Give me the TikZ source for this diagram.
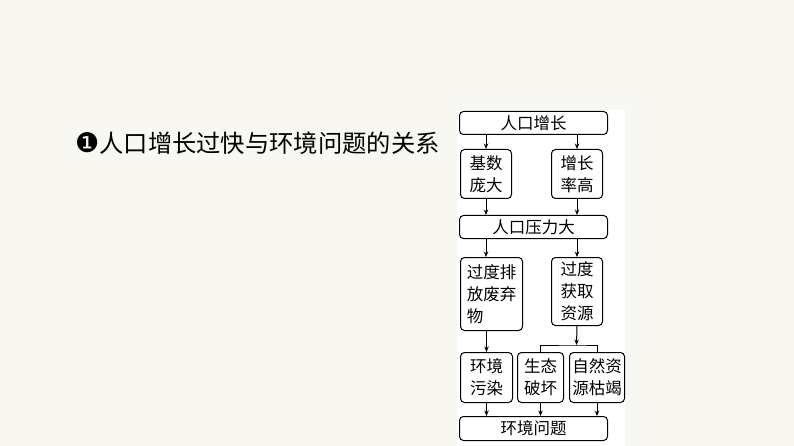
\documentclass[tikz,border=0pt]{standalone}
\usepackage{fontspec}
\newfontfamily\cjk{Noto Sans CJK SC}
\newfontfamily\dingbat{DejaVu Sans}
\usetikzlibrary{arrows.meta,positioning}
\definecolor{beijing}{RGB}{249,247,241}

\begin{document}
\begin{tikzpicture}[
        x=1pt, y=-1pt,
        kuang/.style={draw, rounded corners=4pt, line width=1pt, fill=white, align=center, inner sep=0pt, anchor=north west,
            font=\cjk\fontsize{16.5pt}{22pt}\selectfont},
        changkuang/.style={kuang, minimum width=148pt, minimum height=23pt},
        jiantou/.style={-{Stealth[length=5.5pt, width=4.5pt]}, line width=1pt}
    ]
        % background and white panel
        \fill[beijing] (0,0) rectangle (794,446);
        \useasboundingbox (0,0) rectangle (794,446);
        \fill[white] (457,110) rectangle (625,446);

        \node[anchor=west, inner sep=0pt, font=\cjk\fontsize{24.3pt}{26pt}\selectfont] (biaoti) at (75,143)
            {{\dingbat\fontsize{27pt}{27pt}\selectfont ❶}人口增长过快与环境问题的关系};

        \node[changkuang] (renkou) at (459,111) {人口增长};
        \node[kuang, minimum width=51pt, minimum height=49pt] (jishu) at (460,149) {基数\\庞大};
        \node[kuang, minimum width=51pt, minimum height=49pt] (zenglv) at (551,149) {增长\\率高};
        \node[changkuang] (yali) at (459,215) {人口压力大};

        \node[kuang, minimum width=62pt, minimum height=73pt, align=left] (paifang) at (460,257) {过度排\\放废弃\\物};
        \node[kuang, minimum width=51pt, minimum height=68pt] (huoqu) at (551,257) {过度\\获取\\资源};

        \node[kuang, minimum width=52pt, minimum height=50pt] (wuran) at (460,352) {环境\\污染};
        \node[kuang, minimum width=46pt, minimum height=50pt] (pohuai) at (517,352) {生态\\破坏};
        \node[kuang, minimum width=55pt, minimum height=50pt] (kujie) at (569,352) {自然资\\源枯竭};

        \node[changkuang, minimum height=24pt] (wenti) at (459,416) {环境问题};

        \coordinate (fenzhi) at (576.5,345);

        \draw[jiantou] (renkou.south -| jishu) -- (jishu);
        \draw[jiantou] (renkou.south -| zenglv) -- (zenglv);
        \draw[jiantou] (jishu) -- (jishu |- yali.north);
        \draw[jiantou] (zenglv) -- (zenglv |- yali.north);
        \draw[jiantou] (yali.south -| jishu) -- (paifang.north -| jishu);
        \draw[jiantou] (yali.south -| huoqu) -- (huoqu);
        \draw[jiantou] (paifang.south -| wuran) -- (wuran);
        \draw[jiantou] (huoqu.south) -- (fenzhi);
        \draw[line width=1pt] (pohuai.north) |- (fenzhi) -| (kujie.north);
        \draw[jiantou] (wuran) -- (wuran |- wenti.north);
        \draw[jiantou] (pohuai) -- (pohuai |- wenti.north);
        \draw[jiantou] (kujie) -- (kujie |- wenti.north);
    \end{tikzpicture}
\end{document}
